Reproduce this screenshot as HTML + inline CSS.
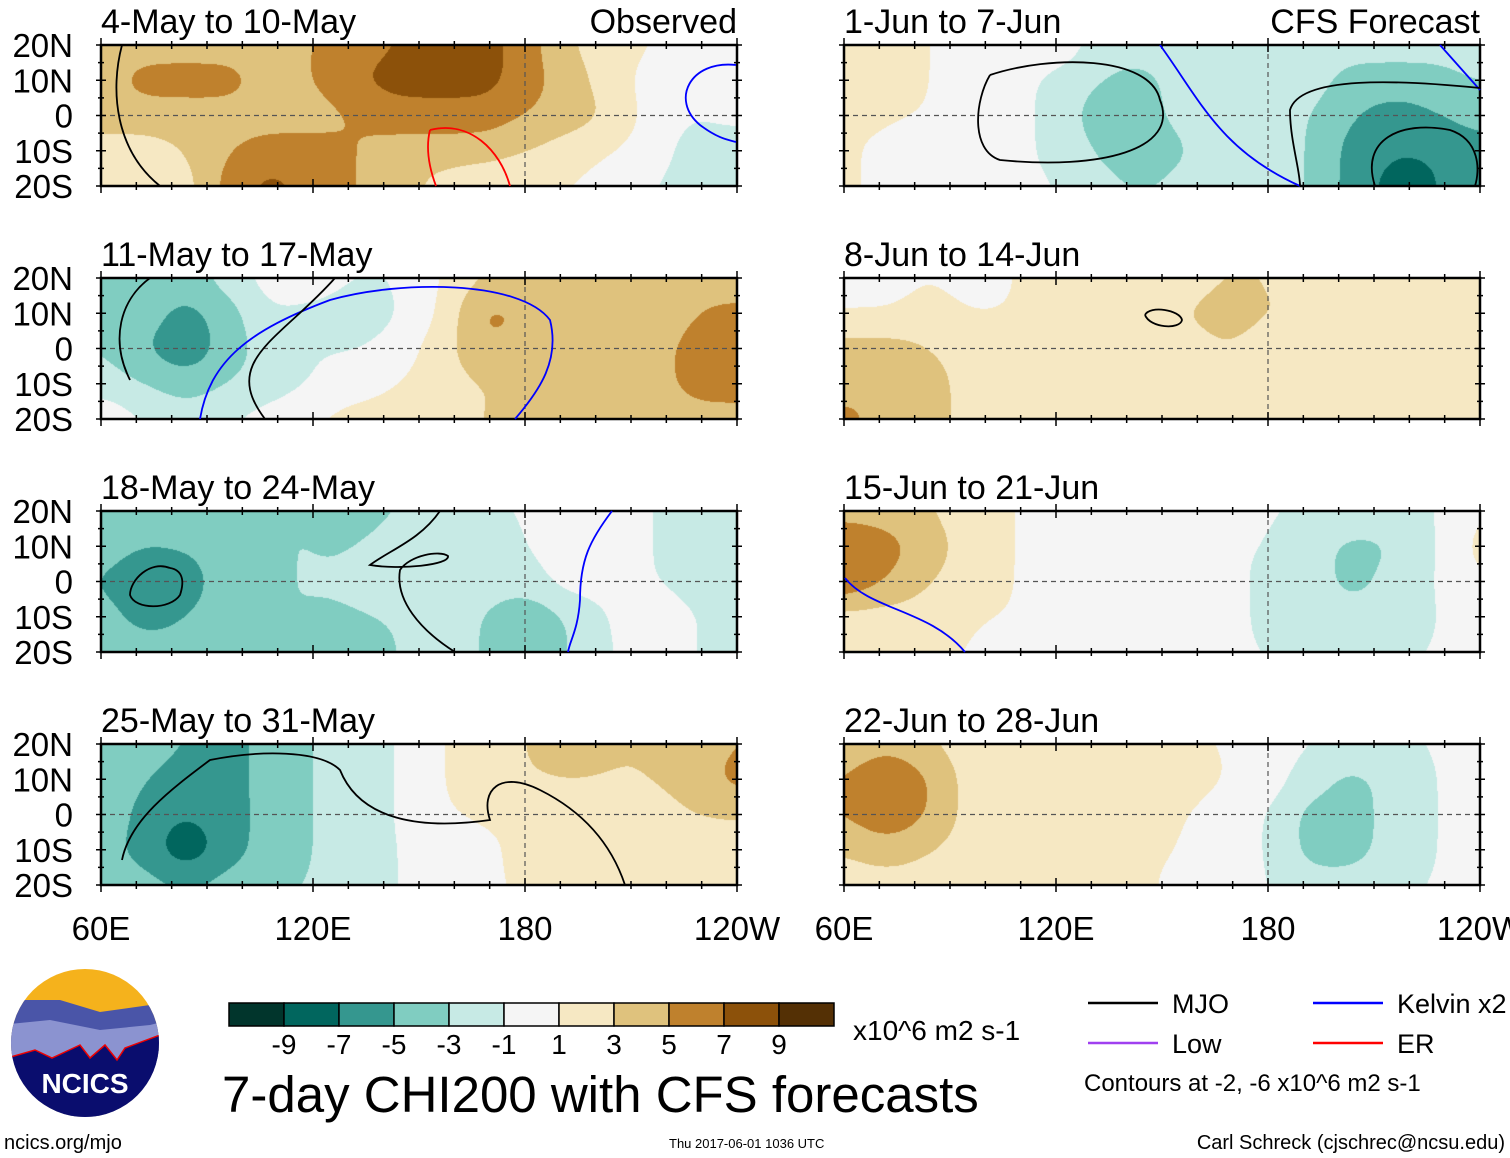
<!DOCTYPE html>
<html><head><meta charset="utf-8"><style>
body{margin:0;background:#fff;}
#root{position:relative;width:1510px;height:1158px;overflow:hidden;background:#fff;font-family:"Liberation Sans",sans-serif;}
canvas{position:absolute;}
svg{position:absolute;left:0;top:0;}
</style></head><body>
<div id="root">
<svg id="ov" width="1510" height="1158"></svg>
</div>
<script>
// ---------- data ----------
const lons = [60,72,84,96,108,120,132,144,156,168,180,192,204,216,228,240];
const lats = [20,10,0,-10,-20];
const titles = ["4-May to 10-May","11-May to 17-May","18-May to 24-May","25-May to 31-May",
                "1-Jun to 7-Jun","8-Jun to 14-Jun","15-Jun to 21-Jun","22-Jun to 28-Jun"];
const levels = [-9,-7,-5,-3,-1,1,3,5,7,9];
const levelColors = ["#01352c","#01665e","#35978f","#80cdc1","#c7eae5","#f5f5f5","#f6e8c3","#dfc27d","#bf812d","#8c510a","#543005"];
const yTicks = ["20N","10N","0","10S","20S"];
const xTicks = ["60E","120E","180","120W"];
const p1 = [[4,4,4,4,4,5,6,7,8,8,6,3,2,1,0,0],[4,6,6,6,4,5,7,8,8,8,6,4,2,0,-1,0],[4,4,4,4,4,4,5,6,6,6,5,4,3,0,-1,0],[2,2,3,5,6,6,5,4,4,4,3,2,1,0,-2,-3],[1,1,2,6,8,6,5,4,2,1,1,1,0,-1,-2,-2]];
const p2 = [[-3,-3,-4,-2,0,1,-1,-1,1,3,3,4,4,3,4,3],[-3,-4,-6,-4,-1,-2,-3,-1,1,6,5,4,3,3,5,6],[-3,-5,-7,-4,-2,-1,-1,0,2,5,4,4,3,4,6,7],[-2,-3,-4,-3,-2,-1,0,1,2,3,3,3,3,4,6,6],[1,-1,-2,-1,0,1,2,2,2,3,4,3,3,3,4,4]];
const p3 = [[-3,-4,-3,-3,-3,-3,-4,-3,-2,-1,-1,0,0,-1,-2,-2],[-4,-5,-5,-4,-3,-3,-3,-2,-2,-2,-1,0,0,-1,-2,-2],[-5,-7,-6,-4,-3,-3,-3,-2,-2,-2,-2,0,0,-1,-2,-2],[-4,-6,-5,-4,-3,-3,-3,-3,-2,-3,-5,-3,-1,1,-1,-2],[-3,-4,-4,-3,-3,-4,-4,-3,-2,-3,-5,-3,-1,0,-1,-2]];
const p4 = [[-3,-4,-5,-6,-4,-3,-2,-1,1,2,3,4,3,3,4,5],[-3,-5,-6,-6,-4,-3,-2,-1,1,2,3,3,3,3,4,6],[-3,-6,-7,-6,-4,-3,-2,-1,1,1,1,2,2,2,3,3],[-4,-6,-9,-6,-4,-3,-2,-1,0,1,1,2,2,2,2,2],[-3,-4,-5,-4,-3,-3,-2,-1,0,1,1,1,2,2,2,2]];
const p5 = [[2,2,1,0,1,1,-2,-2,-1,-1,-1,-2,-2,-2,-2,-1],[2,2,1,0,0,-2,-3,-4,-2,-2,-2,-2,-4,-4,-4,-3],[1,1,1,0,0,-2,-4,-4,-2,-2,-2,-3,-5,-6,-5,-4],[1,1,0,0,0,-2,-3,-6,-3,-2,-2,-3,-6,-7,-7,-6],[1,1,0,0,0,-1,-2,-3,-2,-2,-2,-3,-6,-8,-7,-6]];
const p6 = [[0,0,1,0,1,2,2,1,2,3,3,2,2,2,1,1],[1,1,2,1,1,2,2,3,3,4,3,3,2,2,2,2],[4,4,3,2,2,2,2,2,2,3,2,2,2,2,2,3],[5,5,4,2,2,1,1,1,1,2,2,2,2,2,2,3],[5,5,4,2,2,1,1,1,1,2,2,2,2,2,2,3]];
const p7 = [[4,4,3,2,1,0,0,0,0,0,-1,-1,-1,-2,-1,1],[7,6,4,2,1,0,0,0,0,-1,-1,-2,-4,-3,-1,2],[7,5,3,2,1,0,0,0,0,-1,-1,-2,-4,-2,-1,1],[2,2,2,1,1,0,0,0,0,-1,-1,-2,-2,-2,-1,0],[1,1,1,1,0,0,0,0,0,-1,-1,-1,-1,-1,-1,0]];
const p8 = [[3,4,3,2,1,1,1,1,1,1,0,-1,-1,-1,-1,0],[5,8,5,2,1,2,3,2,2,1,0,-2,-4,-2,-1,0],[5,7,5,2,1,1,3,2,1,0,-1,-4,-4,-2,-1,0],[3,4,3,2,1,1,1,1,1,0,-1,-4,-4,-2,-1,0],[2,2,2,2,1,1,1,1,1,0,-1,-2,-2,-1,-1,0]];
const fields = [p1,p2,p3,p4,p5,p6,p7,p8];

// ---------- layout ----------
const colX = [101,844], rowY = [45,278,511,744], PW = 636, PH = 141;
const root = document.getElementById('root');
const ov = document.getElementById('ov');
const NS = "http://www.w3.org/2000/svg";
function xOf(lon, x0){ return x0 + (lon-60)/180*PW; }
function yOf(lat, y0){ return y0 + (20-lat)/40*PH; }
function colorFor(v){ let i=0; while(i<levels.length && v>levels[i]) i++; return levelColors[i]; }
function hex(c){ return [parseInt(c.substr(1,2),16),parseInt(c.substr(3,2),16),parseInt(c.substr(5,2),16)]; }
const SIG2 = 2*0.55*0.55;
function sample(f, lon, lat){
  const fi=(lon-60)/12, fj=(20-lat)/10;
  let s=0, w=0;
  for(let j=0;j<lats.length;j++){ const dj=fj-j; if(Math.abs(dj)>2.2) continue;
    for(let i=0;i<lons.length;i++){ const di=fi-i; if(Math.abs(di)>2.2) continue;
      const ww=Math.exp(-(di*di+dj*dj)/SIG2); s+=ww*f[j][i]; w+=ww; } }
  return s/w + 0.01;
}
function el(tag, attrs, parent){ const e=document.createElementNS(NS,tag); for(const k in attrs) e.setAttribute(k,attrs[k]); (parent||ov).appendChild(e); return e; }
function txt(x,y,s,size,anchor,name){
  const t=el('text',{x:x,y:y,'font-size':size,'text-anchor':anchor||'start','font-family':'Liberation Sans, sans-serif',fill:'#000'});
  t.textContent=s;
  
  
  return t;
}

fields.forEach((f,k)=>{
  const x0 = colX[Math.floor(k/4)], y0 = rowY[k%4];
  const cv = document.createElement('canvas');
  cv.width=PW; cv.height=PH;
  cv.style.left=x0+'px'; cv.style.top=y0+'px';
  
  
  root.insertBefore(cv, ov);
  const ctx=cv.getContext('2d'); const img=ctx.createImageData(PW,PH);
  for(let py=0;py<PH;py++){ for(let px=0;px<PW;px++){
    const lon=60+px/PW*180, lat=20-py/PH*40;
    const c=hex(colorFor(sample(f,lon,lat))); const o=(py*PW+px)*4;
    img.data[o]=c[0];img.data[o+1]=c[1];img.data[o+2]=c[2];img.data[o+3]=255;
  }}
  ctx.putImageData(img,0,0);
  const eq=el('line',{x1:x0,x2:x0+PW,y1:yOf(0,y0),y2:yOf(0,y0),stroke:'#555','stroke-width':1.2,'stroke-dasharray':'5,4'});
   
  const dl=el('line',{x1:xOf(180,x0),x2:xOf(180,x0),y1:y0,y2:y0+PH,stroke:'#555','stroke-width':1.2,'stroke-dasharray':'5,4'});
   
  const fr=el('rect',{x:x0,y:y0,width:PW,height:PH,fill:'none',stroke:'#000','stroke-width':2.5});
   
  for(let lon=60;lon<=240;lon+=10){
    const len = (lon%60===0)?7:4; const xx=xOf(lon,x0);
    const t1=el('line',{x1:xx,x2:xx,y1:y0-len,y2:y0+len,stroke:'#000','stroke-width':1.5});
     
    const t2=el('line',{x1:xx,x2:xx,y1:y0+PH-len,y2:y0+PH+len,stroke:'#000','stroke-width':1.5});
     
  }
  for(let lat=-20;lat<=20;lat+=5){
    const yy=yOf(lat,y0), len=(lat%10===0)?5:3;
    const t1=el('line',{x1:x0-len,x2:x0+len,y1:yy,y2:yy,stroke:'#000','stroke-width':1.5});
     
    const t2=el('line',{x1:x0+PW-len,x2:x0+PW+len,y1:yy,y2:yy,stroke:'#000','stroke-width':1.5});
     
  }
  txt(x0, y0-12, titles[k], 34, 'start', 'panel-title');
  if(k<4){ lats.forEach((lat,i)=>txt(73, yOf(lat,y0)+12, yTicks[i], 33, 'end', 'y-tick-label')); }
});
txt(colX[0]+PW, rowY[0]-12, "Observed", 34, 'end', 'observed-label');
txt(colX[1]+PW, rowY[0]-12, "CFS Forecast", 34, 'end', 'forecast-label');
colX.forEach(x0=>{ [60,120,180,240].forEach((lon,i)=>txt(xOf(lon,x0), 940, xTicks[i], 33, 'middle', 'x-tick-label')); });

function path(d,c,name){ const p=el('path',{d:d,fill:'none',stroke:c,'stroke-width':1.8});   }
path("M122,45 C110,90 115,150 160,186",'#000','mjo-contour');
path("M736,65 C690,60 670,100 700,125 C720,140 730,140 736,142",'#00f','kelvin-contour');
path("M430,130 C470,120 500,150 510,186 M430,130 C425,150 430,170 436,186",'#f00','er-contour');
path("M990,75 C1050,55 1150,55 1160,100 C1180,150 1100,170 1000,160 C970,150 975,100 990,75",'#000','mjo-contour');
path("M1160,45 C1200,100 1220,150 1300,186",'#00f','kelvin-contour');
path("M1440,45 L1480,90",'#00f','kelvin-contour');
path("M1480,88 C1400,80 1300,75 1290,110 C1290,140 1300,170 1300,186",'#000','mjo-contour');
path("M1375,186 C1360,140 1400,120 1450,130 C1480,140 1480,170 1475,186",'#000','mjo-contour');
path("M150,278 C120,300 110,340 130,380",'#000','mjo-contour');
path("M200,419 C210,360 250,330 330,300 C400,280 520,280 550,320 C560,360 540,390 515,419",'#00f','kelvin-contour');
path("M335,278 C280,340 220,360 265,419",'#000','mjo-contour');
path("M1145,315 C1150,305 1180,310 1182,320 C1180,330 1150,328 1145,315",'#000','mjo-contour');
path("M170,568 C150,560 130,580 130,595 C135,610 170,610 180,595 C185,580 182,570 170,568",'#000','mjo-contour');
path("M440,511 C420,540 390,550 370,565 C400,570 450,565 448,556 C440,550 410,555 400,570 C395,600 420,630 455,652",'#000','mjo-contour');
path("M612,511 C590,540 580,560 580,600 C578,630 570,640 568,652",'#00f','kelvin-contour');
path("M845,578 C870,610 930,610 965,652",'#00f','kelvin-contour');
path("M122,860 C130,820 170,790 210,760 C260,750 320,750 340,770 C360,820 420,830 490,820 C480,790 500,770 540,790 C580,810 610,840 625,885",'#000','mjo-contour');

// ---------- colorbar ----------
const cbX=229, cbY=1003, cbW=55, cbH=23;
levelColors.forEach((c,i)=>{
  const r=el('rect',{x:cbX+i*cbW,y:cbY,width:cbW,height:cbH,fill:c,stroke:'#000','stroke-width':1.5});
   
});
levels.forEach((v,i)=>txt(cbX+(i+1)*cbW, 1054, String(v), 28, 'middle', 'colorbar-label'));
txt(853, 1040, "x10^6 m2 s-1", 28, 'start', 'colorbar-units');
txt(222, 1112, "7-day CHI200 with CFS forecasts", 51, 'start', 'main-title');

// ---------- legend ----------
[["MJO","#000",1088,1003],["Kelvin x2","#00f",1313,1003],["Low","#a040f0",1088,1043],["ER","#f00",1313,1043]].forEach(l=>{
  const ln=el('line',{x1:l[2],x2:l[2]+70,y1:l[3],y2:l[3],stroke:l[1],'stroke-width':2.5});
   
  txt(l[2]+84, l[3]+10, l[0], 27, 'start', 'legend-entry');
});
txt(1084, 1091, "Contours at -2, -6 x10^6 m2 s-1", 24, 'start', 'contour-note');
txt(1505, 1149, "Carl Schreck (cjschrec@ncsu.edu)", 20, 'end', 'author-credit');
txt(669, 1148, "Thu 2017-06-01 1036 UTC", 13, 'start', 'timestamp');
txt(4, 1149, "ncics.org/mjo", 20, 'start', 'site-url');

// ---------- logo ----------
const g=el('g',{});  
el('defs',{},g).innerHTML='<clipPath id="lc"><circle cx="85" cy="1043" r="74"/></clipPath>';
const gg=el('g',{'clip-path':'url(#lc)'},g);
el('rect',{x:0,y:960,width:170,height:160,fill:'#f5b21c'},gg);
el('path',{d:"M0,1000 L60,1000 L100,1012 L150,1005 L170,1010 L170,1120 L0,1120Z",fill:'#4a55a8'},gg);
el('path',{d:"M0,1025 L50,1020 L100,1030 L150,1025 L170,1020 L170,1120 L0,1120Z",fill:'#8b93d0'},gg);
el('path',{d:"M0,1060 L35,1050 L52,1058 L65,1052 L80,1045 L90,1058 L105,1045 L117,1060 L125,1048 L160,1035 L170,1030 L170,1120 L0,1120Z",fill:'#0a0d6e',stroke:'#e00','stroke-width':1.5},gg);
const lt=txt(85,1093,"NCICS",28,'middle','logo-text'); lt.setAttribute('fill','#fff'); lt.setAttribute('font-weight','bold'); g.appendChild(lt);
</script>
</body></html>
